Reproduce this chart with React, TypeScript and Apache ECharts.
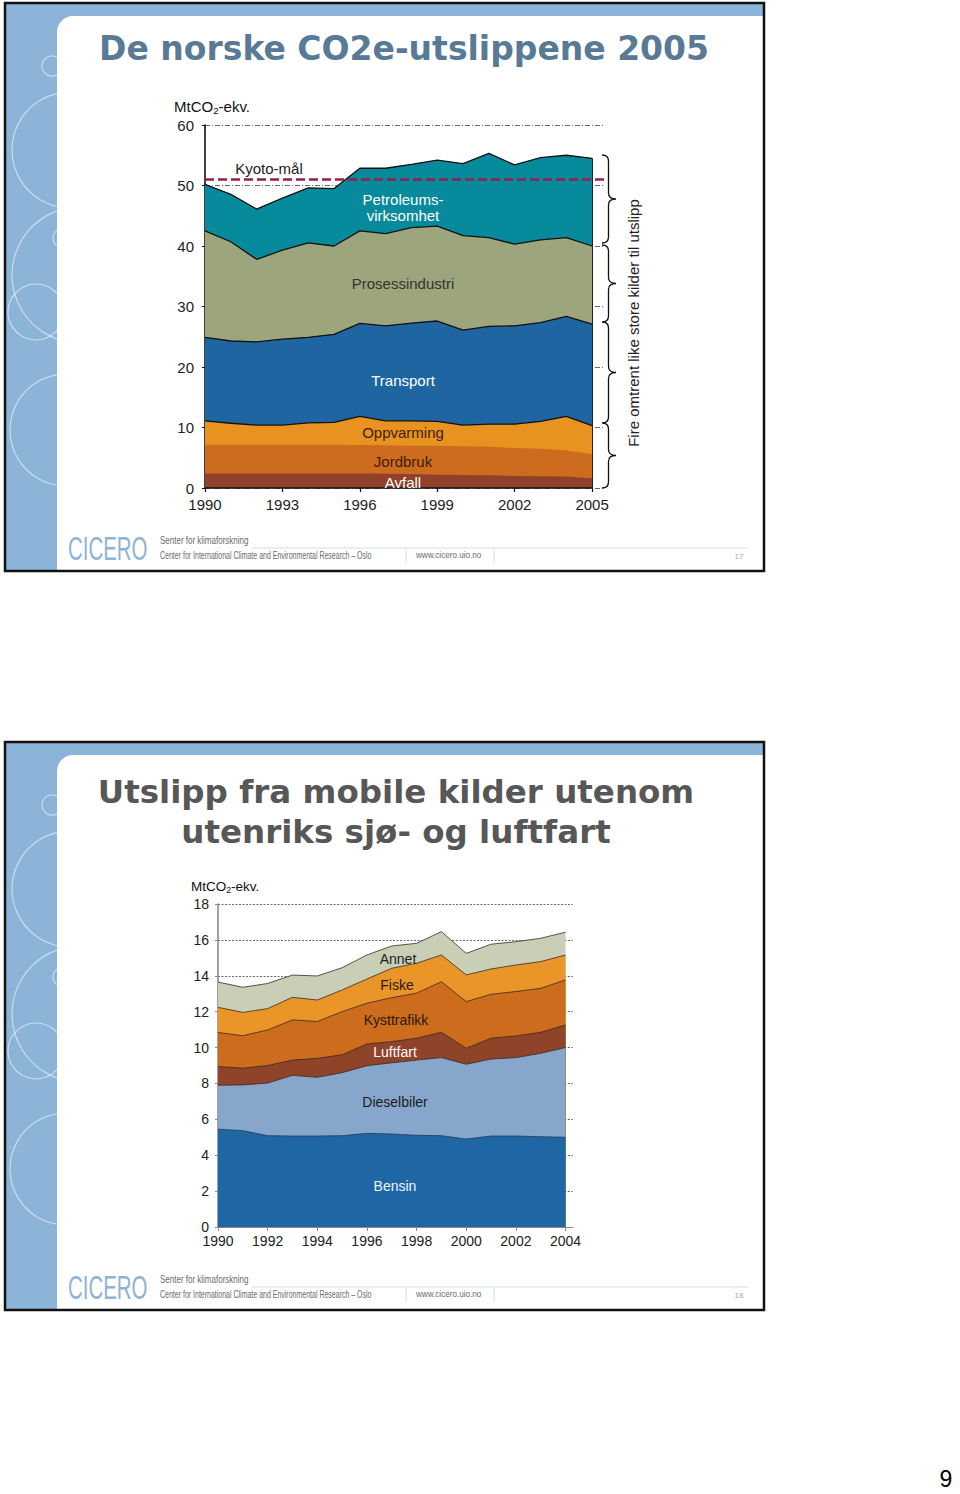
import React, { useEffect, useRef } from "react";
import * as echarts from "echarts";

// ---------- Slide 17: De norske CO2e-utslippene 2005 ----------
const years1 = [1990, 1991, 1992, 1993, 1994, 1995, 1996, 1997, 1998, 1999, 2000, 2001, 2002, 2003, 2004, 2005];
const xTicks1 = [1990, 1993, 1996, 1999, 2002, 2005];
const yTicks1 = [0, 10, 20, 30, 40, 50, 60];
const avfall = [2.4, 2.4, 2.4, 2.4, 2.4, 2.4, 2.4, 2.35, 2.3, 2.2, 2.15, 2.1, 2.0, 1.95, 1.9, 1.6];
const jordbruk = [4.75, 4.75, 4.75, 4.75, 4.75, 4.75, 4.7, 4.7, 4.7, 4.8, 4.75, 4.7, 4.6, 4.55, 4.3, 4.0];
const oppvarming = [3.95, 3.55, 3.25, 3.25, 3.6, 3.7, 4.75, 4.05, 4.1, 4.0, 3.5, 3.75, 3.95, 4.5, 5.65, 4.7];
const transport = [13.8, 13.6, 13.75, 14.2, 14.15, 14.55, 15.35, 15.7, 16.15, 16.6, 15.7, 16.15, 16.25, 16.35, 16.5, 16.8];
const prosessindustri = [17.6, 16.4, 13.65, 14.7, 15.6, 14.6, 15.3, 15.25, 15.8, 15.7, 15.6, 14.7, 13.5, 13.65, 13.05, 12.9];
const petroleum = [7.7, 7.85, 8.3, 8.6, 9.1, 9.5, 10.35, 10.8, 10.45, 10.9, 11.9, 13.9, 13.1, 13.6, 13.6, 14.5];
const kyotoTarget = 51.1;

// ---------- Slide 18: Utslipp fra mobile kilder ----------
const years2 = [1990, 1991, 1992, 1993, 1994, 1995, 1996, 1997, 1998, 1999, 2000, 2001, 2002, 2003, 2004];
const xTicks2 = [1990, 1992, 1994, 1996, 1998, 2000, 2002, 2004];
const yTicks2 = [0, 2, 4, 6, 8, 10, 12, 14, 16, 18];
const bensin = [5.45, 5.37, 5.09, 5.07, 5.07, 5.09, 5.22, 5.18, 5.11, 5.09, 4.9, 5.07, 5.07, 5.03, 5.0];
const dieselbiler = [2.45, 2.55, 2.93, 3.38, 3.27, 3.51, 3.77, 3.97, 4.19, 4.35, 4.17, 4.29, 4.37, 4.65, 5.0];
const luftfart = [1.04, 0.93, 0.98, 0.85, 1.06, 1.0, 1.21, 1.18, 1.22, 1.41, 0.89, 1.16, 1.21, 1.17, 1.26];
const kysttrafikk = [1.9, 1.81, 1.98, 2.24, 2.05, 2.4, 2.27, 2.45, 2.51, 2.82, 2.6, 2.45, 2.47, 2.45, 2.51];
const fiske = [1.4, 1.3, 1.19, 1.26, 1.2, 1.21, 1.35, 1.64, 1.67, 1.49, 1.49, 1.41, 1.48, 1.49, 1.39];
const annet = [1.41, 1.4, 1.4, 1.24, 1.34, 1.24, 1.34, 1.24, 1.11, 1.3, 1.2, 1.38, 1.3, 1.3, 1.27];

const FONT = '"Liberation Sans", Arial, Helvetica, sans-serif';
const TITLE_FONT = '"DejaVu Sans", "Liberation Sans", sans-serif';

// brace outline for the right side of slide 17
const braceGroups = [
  [155, 243],
  [245, 322],
  [322, 423],
  [423, 488],
];
function bracePath(top: number, bot: number) {
  const x0 = 602, x1 = 608.5, x2 = 616;
  const mid = (top + bot) / 2;
  return (
    `M${x0},${top} Q${x1},${top} ${x1},${top + 6} L${x1},${mid - 6} Q${x1},${mid} ${x2},${mid} ` +
    `Q${x1},${mid} ${x1},${mid + 6} L${x1},${bot - 6} Q${x1},${bot} ${x0},${bot} `
  );
}
echarts.graphic.registerShape(
  "braces",
  echarts.graphic.extendPath(braceGroups.map((g) => bracePath(g[0], g[1])).join(" "), {})
);

function txt(x: number, y: number, text: string, o: any = {}) {
  return {
    type: "text",
    x,
    y,
    z: 50,
    rotation: o.rotation || 0,
    scaleX: o.scaleX || 1,
    style: {
      text,
      fill: o.fill || "#222",
      fontSize: o.fontSize || 15,
      fontWeight: o.fontWeight || "normal",
      fontFamily: o.fontFamily || FONT,
      textAlign: o.align || "center",
      align: o.align || "center",
      textVerticalAlign: "middle",
      verticalAlign: "middle",
    },
  };
}

function slideFrame(oy: number, pageNo: string, circles: number[][]) {
  const els: any[] = [];
  els.push({ type: "rect", z: -10, shape: { x: 6, y: oy + 4, width: 757, height: 566 }, style: { fill: "#8cb4d8" } });
  circles.forEach((c) => {
    els.push({
      type: "circle",
      z: -9,
      shape: { cx: c[0], cy: oy + c[1], r: c[2] },
      style: { fill: "none", stroke: "rgba(255,255,255,0.55)", lineWidth: 1.2 },
    });
  });
  els.push({
    type: "rect",
    z: -8,
    shape: { x: 57, y: oy + 16, width: 706, height: 554, r: [16, 0, 0, 0] },
    style: { fill: "#ffffff" },
  });
  els.push({
    type: "rect",
    z: -7,
    shape: { x: 5, y: oy + 3, width: 759, height: 568 },
    style: { fill: "none", stroke: "#111", lineWidth: 2.5 },
  });
  // footer
  els.push(txt(68, oy + 549, "CICERO", { align: "left", fontSize: 33, fill: "#8fb3d4", scaleX: 0.62 }));
  els.push(txt(160, oy + 541, "Senter for klimaforskning", { align: "left", fontSize: 10, fill: "#6a6a6a", scaleX: 0.8 }));
  els.push(
    txt(160, oy + 556, "Center for International Climate and Environmental Research \u2013 Oslo", {
      align: "left",
      fontSize: 10,
      fill: "#6a6a6a",
      scaleX: 0.7,
    })
  );
  els.push(txt(416, oy + 555, "www.cicero.uio.no", { align: "left", fontSize: 9, fill: "#6a6a6a", scaleX: 0.9 }));
  els.push({ type: "line", z: -6, shape: { x1: 252, y1: oy + 548, x2: 748, y2: oy + 548 }, style: { stroke: "#d6dde4", lineWidth: 1 } });
  els.push({ type: "line", z: -6, shape: { x1: 406, y1: oy + 549, x2: 406, y2: oy + 563 }, style: { stroke: "#d6dde4", lineWidth: 1 } });
  els.push({ type: "line", z: -6, shape: { x1: 494, y1: oy + 549, x2: 494, y2: oy + 563 }, style: { stroke: "#d6dde4", lineWidth: 1 } });
  els.push(txt(739, oy + 556, pageNo, { fontSize: 8, fill: "#aaaaaa" }));
  return els;
}

function unitText(x: number, y: number, size: number) {
  return {
    type: "text",
    x,
    y,
    z: 50,
    style: {
      text: "{a|MtCO}{b|2}{a|-ekv.}",
      textAlign: "left",
      align: "left",
      textVerticalAlign: "middle",
      verticalAlign: "middle",
      rich: {
        a: { fontSize: size, fontFamily: FONT, fill: "#111", lineHeight: size + 4, verticalAlign: "middle" },
        b: { fontSize: size * 0.65, fontFamily: FONT, fill: "#111", lineHeight: size + 4, verticalAlign: "bottom" },
      },
    },
  };
}

// Cumulative stacking computed from the component arrays; the highest layer is drawn first,
// every lower layer is drawn over it (area filled down to the axis).
function cumulative(layers: number[][]) {
  const out: number[][] = [];
  let acc = layers[0].map(() => 0);
  layers.forEach((l) => {
    acc = acc.map((a, i) => +(a + l[i]).toFixed(3));
    out.push(acc);
  });
  return out;
}

function areaSeries(name: string, cum: number[], years: number[], base: number, gi: number, color: string, lineColor: string, lineWidth: number) {
  return {
    type: "line",
    name,
    xAxisIndex: gi,
    yAxisIndex: gi,
    symbol: "none",
    data: years.map((y, i) => [y - base, cum[i]]),
    areaStyle: { color, opacity: 1, origin: "start" },
    lineStyle: { color: lineColor, width: lineWidth },
    itemStyle: { color },
  };
}

export default function App() {
  const ref = useRef<HTMLDivElement>(null);
  useEffect(() => {
    if (!ref.current) return;
    const chart = echarts.init(ref.current, undefined, { renderer: "svg" });
    const base1 = years1[0];
    const base2 = years2[0];
    const lastIdx1 = years1.length - 1;

    const layers1 = [avfall, jordbruk, oppvarming, transport, prosessindustri, petroleum];
    const names1 = ["Avfall", "Jordbruk", "Oppvarming", "Transport", "Prosessindustri", "Petroleumsvirksomhet"];
    const colors1 = ["#914129", "#cd6c1f", "#e8931f", "#1e65a2", "#9ca57b", "#078a9c"];
    const lines1 = [0, 0, 1.3, 1.3, 1.3, 1.3];
    const cum1 = cumulative(layers1);
    const s1: any[] = [];
    for (let k = layers1.length - 1; k >= 0; k--) {
      s1.push(areaSeries(names1[k], cum1[k], years1, base1, 0, colors1[k], lines1[k] ? "#111" : colors1[k], lines1[k]));
    }
    const total1Last = cum1[cum1.length - 1][lastIdx1];
    s1[0].markLine = {
      silent: true,
      symbol: "none",
      label: { show: false },
      data: [{ yAxis: kyotoTarget, lineStyle: { color: "#9b1c4b", width: 2.6, type: [9, 4] } }],
    };
    s1[s1.length - 1].markLine = {
      silent: true,
      symbol: "none",
      label: { show: false },
      data: [
        [
          { coord: [years1[0] - base1, 0], lineStyle: { color: "#111", width: 1.6, type: "solid" } },
          { coord: [years1[lastIdx1] - base1, 0] },
        ],
        [
          { coord: [years1[lastIdx1] - base1, 0], lineStyle: { color: "#222", width: 1, type: "solid" } },
          { coord: [years1[lastIdx1] - base1, total1Last] },
        ],
      ],
    };

    const layers2 = [bensin, dieselbiler, luftfart, kysttrafikk, fiske, annet];
    const names2 = ["Bensin", "Dieselbiler", "Luftfart", "Kysttrafikk", "Fiske", "Annet"];
    const colors2 = ["#1e67a4", "#86a6cc", "#8f4329", "#ce6c1e", "#e99527", "#c9cfb6"];
    const cum2 = cumulative(layers2);
    const s2: any[] = [];
    for (let k = layers2.length - 1; k >= 0; k--) {
      s2.push(areaSeries(names2[k], cum2[k], years2, base2, 1, colors2[k], k === 0 ? "#243a55" : "#3a2a22", 0.8));
    }

    const leftCircles = [
      [52, 66, 10],
      [70, 150, 58],
      [62, 238, 9],
      [80, 275, 68],
      [36, 312, 28],
      [66, 430, 56],
    ];

    const graphics: any[] = [
      ...slideFrame(0, "17", leftCircles),
      ...slideFrame(739, "18", leftCircles),
      // titles
      txt(404, 48, "De norske CO2e-utslippene 2005", { fontSize: 33, fontWeight: "bold", fill: "#587a96", fontFamily: TITLE_FONT }),
      txt(396, 792, "Utslipp fra mobile kilder utenom", { fontSize: 32.5, fontWeight: "bold", fill: "#575757", fontFamily: TITLE_FONT }),
      txt(396, 832, "utenriks sj\u00f8- og luftfart", { fontSize: 32.5, fontWeight: "bold", fill: "#575757", fontFamily: TITLE_FONT }),
      unitText(174, 106, 15),
      unitText(191, 886, 13.5),
      // slide 17 annotations
      txt(269, 168, "Kyoto-m\u00e5l", { fontSize: 15, fill: "#222" }),
      txt(403, 199, "Petroleums-", { fontSize: 15, fill: "#ffffff" }),
      txt(403, 215, "virksomhet", { fontSize: 15, fill: "#ffffff" }),
      txt(403, 283, "Prosessindustri", { fontSize: 15, fill: "#333333" }),
      txt(403, 380, "Transport", { fontSize: 15, fill: "#ffffff" }),
      txt(403, 432, "Oppvarming", { fontSize: 15, fill: "#3d1c08" }),
      txt(403, 461, "Jordbruk", { fontSize: 15, fill: "#3d1c08" }),
      txt(403, 482, "Avfall", { fontSize: 15, fill: "#ffffff" }),
      {
        type: "braces",
        z: 50,
        shape: {},
        style: { fill: "none", stroke: "#111", lineWidth: 1.3 },
      },
      txt(633, 323, "Fire omtrent like store kilder til utslipp", { fontSize: 15, fill: "#222", rotation: Math.PI / 2 }),
      // slide 18 annotations
      txt(398, 959, "Annet", { fontSize: 14, fill: "#222" }),
      txt(397, 985, "Fiske", { fontSize: 14, fill: "#2a1a0a" }),
      txt(396, 1020, "Kysttrafikk", { fontSize: 14, fill: "#2a1a0a" }),
      txt(395, 1052, "Luftfart", { fontSize: 14, fill: "#ffffff" }),
      txt(395, 1102, "Dieselbiler", { fontSize: 14, fill: "#1a1a1a" }),
      txt(395, 1186, "Bensin", { fontSize: 14, fill: "#eef4ff" }),
      // page number
      txt(946, 1479, "9", { fontSize: 23, fill: "#000" }),
    ];

    const xTickOffsets1 = xTicks1.map((t) => t - base1);
    const xTickOffsets2 = xTicks2.map((t) => t - base2);

    chart.setOption({
      animation: false,
      backgroundColor: "#ffffff",
      textStyle: { fontFamily: FONT },
      grid: [
        { left: 205, top: 125, width: 400, height: 363, containLabel: false, outerBoundsMode: "none" },
        { left: 218, top: 904, width: 355, height: 323, containLabel: false, outerBoundsMode: "none" },
      ],
      xAxis: [
        {
          type: "value",
          gridIndex: 0,
          min: xTickOffsets1[0],
          max: xTickOffsets1[xTickOffsets1.length - 1] + 0.5,
          interval: xTickOffsets1[1] - xTickOffsets1[0],
          axisLine: { show: false },
          axisTick: { show: true, length: 4, lineStyle: { color: "#111", width: 1.2 }, customValues: xTickOffsets1 },
          axisLabel: {
            customValues: xTickOffsets1,
            formatter: (v: number) => (Number.isInteger(v) ? String(v + base1) : ""),
            color: "#222",
            fontSize: 15,
            margin: 9,
            fontFamily: FONT,
          },
          splitLine: { show: false },
        },
        {
          type: "value",
          gridIndex: 1,
          min: xTickOffsets2[0],
          max: xTickOffsets2[xTickOffsets2.length - 1] + 0.3,
          interval: xTickOffsets2[1] - xTickOffsets2[0],
          axisLine: { show: true, lineStyle: { color: "#8a8a8a", width: 1 } },
          axisTick: { show: true, length: 4, lineStyle: { color: "#8a8a8a" }, customValues: xTickOffsets2 },
          axisLabel: {
            customValues: xTickOffsets2,
            formatter: (v: number) => (Number.isInteger(v) ? String(v + base2) : ""),
            color: "#222",
            fontSize: 14,
            margin: 7,
            fontFamily: FONT,
          },
          splitLine: { show: false },
        },
      ],
      yAxis: [
        {
          type: "value",
          gridIndex: 0,
          min: yTicks1[0],
          max: yTicks1[yTicks1.length - 1],
          interval: yTicks1[1] - yTicks1[0],
          axisLine: { show: true, lineStyle: { color: "#111", width: 1.6 } },
          axisTick: { show: true, length: 3, lineStyle: { color: "#111" } },
          axisLabel: { color: "#222", fontSize: 15, margin: 11, fontFamily: FONT },
          splitLine: { show: true, lineStyle: { color: "#444", width: 0.8, type: [5, 2, 1, 2] } },
        },
        {
          type: "value",
          gridIndex: 1,
          min: yTicks2[0],
          max: yTicks2[yTicks2.length - 1],
          interval: yTicks2[1] - yTicks2[0],
          axisLine: { show: true, lineStyle: { color: "#8a8a8a", width: 1.6 } },
          axisTick: { show: true, length: 3, lineStyle: { color: "#8a8a8a" } },
          axisLabel: { color: "#222", fontSize: 14, margin: 9, fontFamily: FONT },
          splitLine: { show: true, lineStyle: { color: "#444", width: 0.8, type: [2, 1.5] } },
        },
      ],
      series: [...s1, ...s2],
      graphic: graphics,
    });
    return () => chart.dispose();
  }, []);
  return (
    <div
      ref={ref}
      style={{ position: "absolute", left: 0, top: 0, width: 960, height: 1494 }}
    />
  );
}
